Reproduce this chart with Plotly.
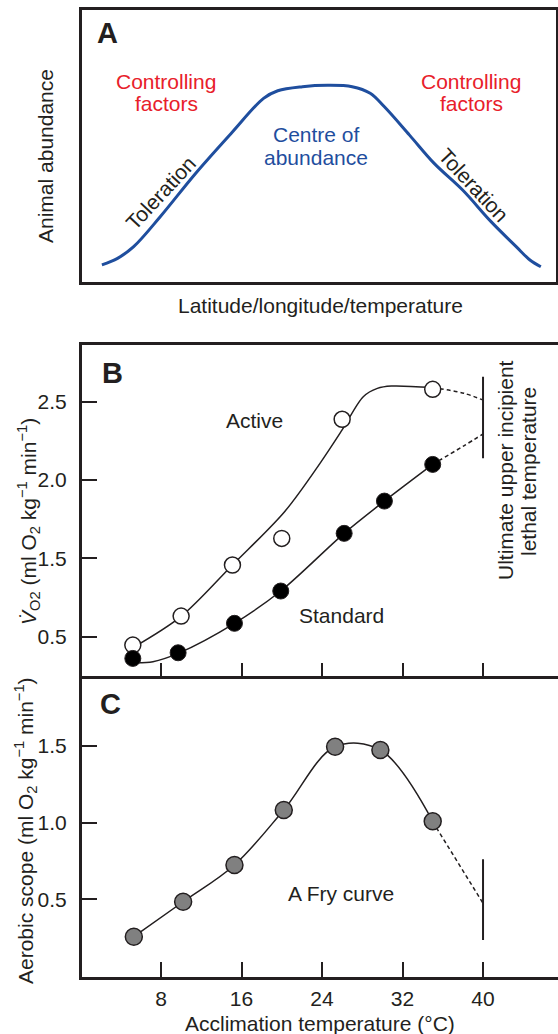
import plotly.graph_objects as go

# ---------- Panel A: conceptual abundance curve ----------
a_x = [4.2, 7.5, 10.9, 16.5, 24.0, 31.5, 38.3, 41.3, 46.5, 51.8, 57.0, 60.8, 63.8, 69.1, 74.3, 80.3, 86.3, 91.6, 94.5, 96.8]
a_y = [6.3, 8.7, 13.0, 24.0, 40.0, 54.7, 67.5, 70.3, 71.8, 72.3, 71.8, 69.4, 64.4, 54.0, 43.6, 33.8, 22.2, 13.0, 8.1, 5.6]

# ---------- Panel B: oxygen consumption ----------
active_x = [5.2, 10.0, 15.1, 20.0, 26.0, 35.0]
active_y = [0.947, 1.132, 1.458, 1.628, 2.388, 2.579]
active_fit_x = [5.2, 10.0, 15.1, 20.3, 23.8, 26.0, 28.1, 29.5, 30.9, 35.0]
active_fit_y = [0.93, 1.13, 1.458, 1.80, 2.107, 2.32, 2.532, 2.585, 2.60, 2.59]
active_dash_x = [35.0, 38.1, 40.0]
active_dash_y = [2.59, 2.554, 2.51]

standard_x = [5.2, 9.7, 15.3, 19.9, 26.2, 30.2, 35.0]
standard_y = [0.862, 0.898, 1.086, 1.292, 1.660, 1.866, 2.100]
standard_fit_x = [5.6, 7.2, 9.7, 15.3, 19.9, 26.2, 30.2, 35.0]
standard_fit_y = [0.834, 0.841, 0.894, 1.086, 1.292, 1.660, 1.866, 2.100]
standard_dash_x = [35.0, 38.05, 40.0]
standard_dash_y = [2.100, 2.217, 2.294]

lethal_b_x = [40.0, 40.0]
lethal_b_y = [2.14, 2.66]

b_ticks = [1.0, 1.5, 2.0, 2.5]
b_ticktext = ["0.5", "1.5", "2.0", "2.5"]

# ---------- Panel C: aerobic scope (Fry curve) ----------
scope_x = [5.3, 10.2, 15.3, 20.2, 25.3, 29.8, 35.0]
scope_y = [0.256, 0.484, 0.724, 1.083, 1.495, 1.474, 1.009]
scope_dash_x = [35.0, 40.0]
scope_dash_y = [1.006, 0.474]
lethal_c_x = [40.0, 40.0]
lethal_c_y = [0.234, 0.761]

c_ticks = [0.5, 1.0, 1.5]
c_ticktext = ["0.5", "1.0", "1.5"]
x_ticks = [8, 16, 24, 32, 40]
x_ticktext = ["8", "16", "24", "32", "40"]

INK = "#231f20"
BLUE = "#1f4e9e"
RED = "#e8202a"
W, H = 558, 1034
FS = 21

fig = go.Figure()

# Panel A
fig.add_trace(go.Scatter(x=a_x, y=a_y, mode="lines", xaxis="x3", yaxis="y3",
                         line=dict(color=BLUE, width=3, shape="spline", smoothing=1)))

# Panel B
fig.add_trace(go.Scatter(x=active_fit_x, y=active_fit_y, mode="lines", xaxis="x2", yaxis="y2",
                         line=dict(color=INK, width=1.5, shape="spline", smoothing=0.9)))
fig.add_trace(go.Scatter(x=active_dash_x, y=active_dash_y, mode="lines", xaxis="x2", yaxis="y2",
                         line=dict(color=INK, width=1.5, dash="4px,3px", shape="spline")))
fig.add_trace(go.Scatter(x=standard_fit_x, y=standard_fit_y, mode="lines", xaxis="x2", yaxis="y2",
                         line=dict(color=INK, width=1.5, shape="spline", smoothing=0.9)))
fig.add_trace(go.Scatter(x=standard_dash_x, y=standard_dash_y, mode="lines", xaxis="x2", yaxis="y2",
                         line=dict(color=INK, width=1.5, dash="4px,3px", shape="spline")))
fig.add_trace(go.Scatter(x=lethal_b_x, y=lethal_b_y, mode="lines", xaxis="x2", yaxis="y2",
                         line=dict(color=INK, width=2)))
fig.add_trace(go.Scatter(x=active_x, y=active_y, mode="markers", xaxis="x2", yaxis="y2",
                         marker=dict(size=16, color="white", line=dict(color=INK, width=1.5))))
fig.add_trace(go.Scatter(x=standard_x, y=standard_y, mode="markers", xaxis="x2", yaxis="y2",
                         marker=dict(size=16, color="black", line=dict(color=INK, width=1))))

# Panel C
fig.add_trace(go.Scatter(x=scope_x, y=scope_y, mode="lines", xaxis="x", yaxis="y",
                         line=dict(color=INK, width=1.5, shape="spline", smoothing=1)))
fig.add_trace(go.Scatter(x=scope_dash_x, y=scope_dash_y, mode="lines", xaxis="x", yaxis="y",
                         line=dict(color=INK, width=1.5, dash="4px,3px")))
fig.add_trace(go.Scatter(x=lethal_c_x, y=lethal_c_y, mode="lines", xaxis="x", yaxis="y",
                         line=dict(color=INK, width=2)))
fig.add_trace(go.Scatter(x=scope_x, y=scope_y, mode="markers", xaxis="x", yaxis="y",
                         marker=dict(size=17, color="#808080", line=dict(color=INK, width=1.5))))


def px(x, y):
    return x / W, 1 - y / H


annots = []


def note(text, x, y, size=FS, color=INK, angle=0, bold=False):
    xp, yp = px(x, y)
    annots.append(dict(text=("<b>%s</b>" % text) if bold else text, x=xp, y=yp,
                       xref="paper", yref="paper", xanchor="center", yanchor="middle",
                       showarrow=False, textangle=angle,
                       font=dict(size=size, color=color)))


note("A", 107, 33, size=29, bold=True)
note("B", 112, 373, size=29, bold=True)
note("C", 110, 704, size=29, bold=True)

note("Animal abundance", 45, 156, angle=-90)
note("Latitude/longitude/temperature", 320, 305)
note("Controlling", 166, 81, color=RED)
note("factors", 166, 103, color=RED)
note("Controlling", 471, 81, color=RED)
note("factors", 471, 103, color=RED)
note("Centre of", 316, 135, color=BLUE)
note("abundance", 316, 158, color=BLUE)
note("Toleration", 160, 193, angle=-47)
note("Toleration", 473, 185, angle=47)

note("<i>V̇</i><sub>O2</sub> (ml O<sub>2</sub> kg<sup>−1</sup> min<sup>−1</sup>)", 28, 522, angle=-90)
note("Active", 254, 421)
note("Standard", 341, 615)
note("Ultimate upper incipient", 505, 470, angle=-90)
note("lethal temperature", 528, 472, angle=-90)

note("Aerobic scope (ml O<sub>2</sub> kg<sup>−1</sup> min<sup>−1</sup>)", 25, 831, angle=-90)
note("A Fry curve", 341, 893)
note("Acclimation temperature (°C)", 320, 1023)

xdom = [82 / W, 1.0]
c_dom = [1 - 976.7 / H, 1 - 675.5 / H]
b_dom = [1 - 675.5 / H, 1 - 345 / H]

common_line = dict(showline=True, linewidth=3, linecolor=INK, showgrid=False, zeroline=False)

fig.update_layout(
    width=W, height=H,
    margin=dict(l=0, r=0, t=0, b=0),
    paper_bgcolor="white", plot_bgcolor="white",
    showlegend=False,
    font=dict(family="Liberation Sans, Arial, sans-serif", size=FS, color=INK),
    annotations=annots,
    xaxis=dict(domain=xdom, range=[0.15, 47.45], anchor="y",
               tickvals=x_ticks, ticktext=x_ticktext, ticks="inside", ticklen=15, tickwidth=2,
               tickcolor=INK, ticklabelstandoff=1, **common_line),
    yaxis=dict(domain=c_dom, range=[-0.005, 1.96], anchor="x",
               tickvals=c_ticks, ticktext=c_ticktext, ticks="inside", ticklen=15, tickwidth=2,
               tickcolor=INK, ticklabelstandoff=8, **common_line),
    xaxis2=dict(domain=xdom, range=[0.15, 47.45], anchor="y2", mirror=True,
                tickvals=x_ticks, showticklabels=False, ticks="inside", ticklen=13, tickwidth=2,
                tickcolor=INK, **common_line),
    yaxis2=dict(domain=b_dom, range=[0.753, 2.862], anchor="x2",
                tickvals=b_ticks, ticktext=b_ticktext, ticks="inside", ticklen=15, tickwidth=2,
                tickcolor=INK, ticklabelstandoff=8, **common_line),
    xaxis3=dict(domain=[82 / W, 556 / W], range=[0, 100], anchor="y3", mirror=True,
                showticklabels=False, ticks="", showline=True, linewidth=2.5, linecolor=INK,
                showgrid=False, zeroline=False),
    yaxis3=dict(domain=[1 - 282 / H, 1 - 10 / H], range=[0, 100], anchor="x3", mirror=True,
                showticklabels=False, ticks="", showline=True, linewidth=2.5, linecolor=INK,
                showgrid=False, zeroline=False),
)

fig.write_html("out.html")
